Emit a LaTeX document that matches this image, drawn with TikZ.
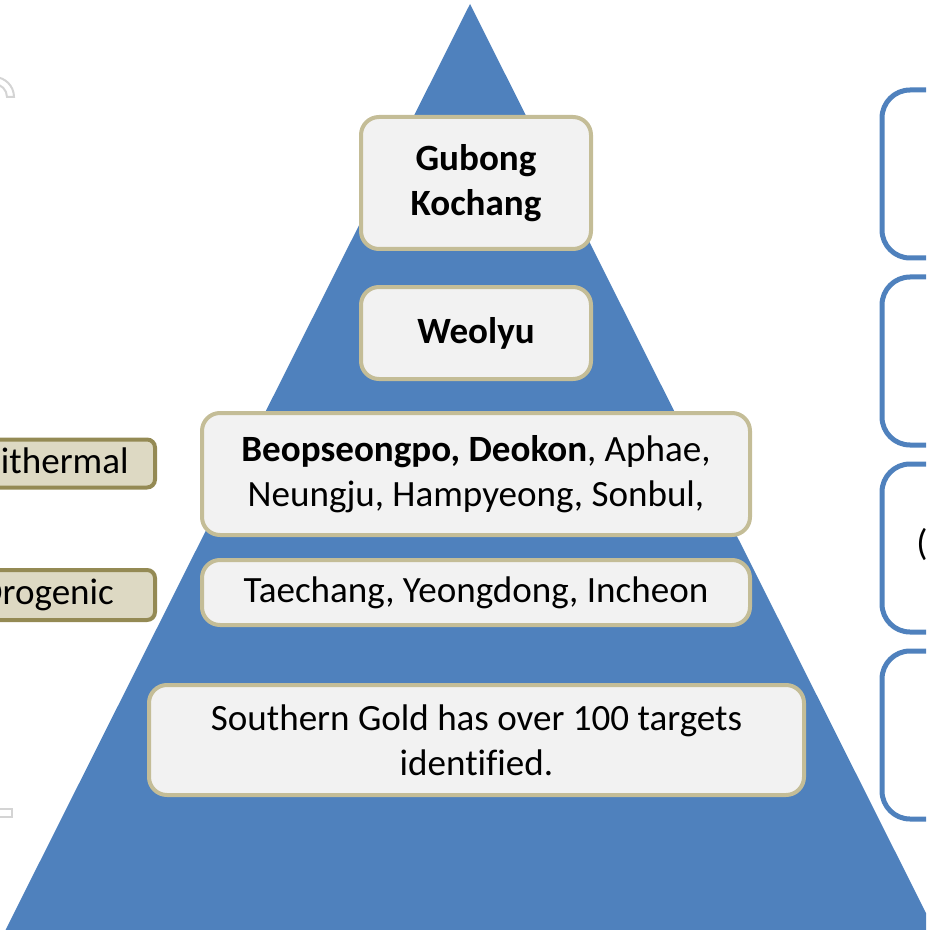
\documentclass[tikz,border=0pt]{standalone}
\usepackage{fontspec}
\setmainfont{Carlito}[Ligatures=NoCommon]
\usetikzlibrary{positioning}
\def\px{0.75pt}
\definecolor{pyramid}{HTML}{4F81BD}
\definecolor{sand}{HTML}{C4BD97}
\definecolor{paper}{HTML}{F2F2F2}
\definecolor{khaki}{HTML}{DDD9C3}
\definecolor{olive}{HTML}{948A54}
\definecolor{ghost}{HTML}{D4D4D4}

\begin{document}
\begin{tikzpicture}[x=\px,y=-\px]
    \tikzstyle{every node}=[font=\fontsize{27.8}{34}\selectfont]
    \tikzstyle{level}=[rectangle,draw=sand,line width=3pt,fill=paper,rounded corners=13.5pt,align=center,inner sep=0pt]
    \tikzstyle{top level}=[level,minimum width=172.5pt]
    \tikzstyle{mid level}=[level,minimum width=411pt]
    \tikzstyle{tag}=[rectangle,draw=olive,line width=3pt,fill=khaki,rounded corners=6pt,inner sep=0pt,minimum width=163.5pt,minimum height=36pt,anchor=east]
    \tikzstyle{side}=[rectangle,draw=pyramid,line width=3.75pt,rounded corners=21pt,minimum width=127.5pt,minimum height=126pt,node distance=10.5pt]

    \useasboundingbox (0,0) rectangle (926,930);
    \clip (0,0) rectangle (926,930);

    % faint leftovers at the left edge
    \draw[ghost,line width=1.5pt] (-6,77) arc[start angle=-90,end angle=0,radius=20] -- (7,97)
        arc[start angle=0,end angle=-90,radius=13] -- cycle;
    \draw[ghost,line width=2pt] (-10,809) rectangle (12,817);

    % the pyramid
    \fill[pyramid] (470,4) -- (3,935) -- (937,935) -- cycle;

    % types on the left
    \node[tag] (epi) at (157,463.5) {Epithermal};
    \node[tag,minimum height=37.5pt] (oro) at (157,595) {Orogenic};

    % boxes on the right
    \node[side] (R-1) at (967,174) {};
    \foreach \name [count=\i] in {2,...,4}
        \node[side, below=of R-\i] (R-\name) {};
    \node[anchor=west,inner sep=0pt] (R-3-text) at (916,545) {(};

    % levels of the pyramid
    \node[top level,minimum height=99pt] (L-1) at (476,183) {\textbf{Gubong}\\\textbf{Kochang}};
    \node[top level,minimum height=69pt] (L-2) at (476,333) {\textbf{Weolyu}};
    \node[mid level,minimum height=91.5pt] (L-3) at (476,474)
        {\textbf{Beopseongpo, Deokon}, Aphae,\\Neungju, Hampyeong, Sonbul,};
    \node[mid level,minimum height=48.75pt] (L-4) at (476,592.5) {Taechang, Yeongdong, Incheon};
    \node[level,minimum width=491.25pt,minimum height=82.5pt] (L-5) at (476.5,740)
        {Southern Gold has over 100 targets\\identified.};
\end{tikzpicture}
\end{document}
